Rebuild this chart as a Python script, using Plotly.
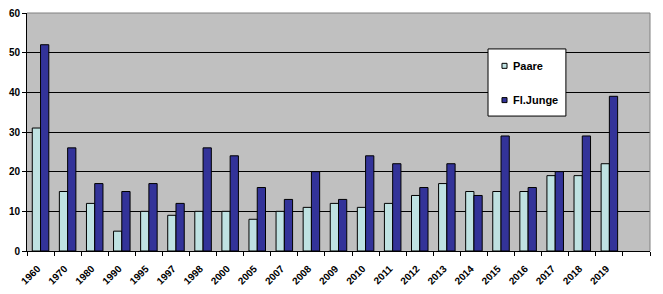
import plotly.graph_objects as go

years = ["1960", "1970", "1980", "1990", "1995", "1997", "1998", "2000", "2005", "2007",
         "2008", "2009", "2010", "2011", "2012", "2013", "2014", "2015", "2016", "2017",
         "2018", "2019", " "]
paare = [31, 15, 12, 5, 10, 9, 10, 10, 8, 10, 11, 12, 11, 12, 14, 17, 15, 15, 15, 19, 19, 22, None]
junge = [52, 26, 17, 15, 17, 12, 26, 24, 16, 13, 20, 13, 24, 22, 16, 22, 14, 29, 16, 20, 29, 39, None]
series_names = ["Paare", "Fl.Junge"]
series_colors = ["#BFE2E2", "#333399"]

fam = "Liberation Sans, Arial, sans-serif"

fig = go.Figure()
for name, vals, col in zip(series_names, [paare, junge], series_colors):
    fig.add_trace(go.Bar(x=years, y=vals, name=name,
                         marker=dict(color=col, line=dict(color="black", width=1))))

fig.update_layout(
    width=663, height=294,
    margin=dict(l=27, r=13, t=13, b=43),
    paper_bgcolor="white", plot_bgcolor="#C0C0C0",
    barmode="group", bargap=0.39, bargroupgap=0,
    font=dict(family=fam, size=10, color="black"),
    showlegend=False,
    xaxis=dict(type="category", tickangle=-45, showgrid=False, automargin=False,
               showline=True, linecolor="black", linewidth=1,
               ticks="outside", ticklen=4, tickcolor="black", tickson="boundaries",
               ticklabelstandoff=7, ticklabelshift=-3,
               tickfont=dict(family=fam, size=10, color="black", weight="bold")),
    yaxis=dict(range=[0, 60], dtick=10, showgrid=True, gridcolor="black", gridwidth=1,
               showline=True, linecolor="black", linewidth=1, automargin=False,
               ticks="outside", ticklen=4, tickcolor="black",
               tickfont=dict(family=fam, size=10, color="black", weight="bold"),
               zeroline=False),
)
# gray frame on top and right of the plot area
fig.add_shape(type="line", xref="paper", yref="paper", x0=0, x1=1, y0=1, y1=1,
              line=dict(color="#808080", width=1))
fig.add_shape(type="line", xref="paper", yref="paper", x0=1, x1=1, y0=0, y1=1,
              line=dict(color="#808080", width=1))

# legend box (Excel style)
fig.add_shape(type="rect", xref="paper", yref="paper", x0=0.740, x1=0.865, y0=0.567, y1=0.849,
              fillcolor="white", line=dict(color="black", width=1))
for i, (name, col) in enumerate(zip(series_names, series_colors)):
    yc = 0.778 - i * 0.144
    fig.add_shape(type="rect", xref="paper", yref="paper", x0=0.7624, x1=0.7705,
                  y0=yc - 0.0105, y1=yc + 0.0105,
                  fillcolor=col, line=dict(color="black", width=1))
    fig.add_annotation(xref="paper", yref="paper", x=0.777, y=yc, text=name,
                       xanchor="left", yanchor="middle", showarrow=False,
                       font=dict(family=fam, size=11, color="black", weight="bold"))

fig.write_html("out.html")
